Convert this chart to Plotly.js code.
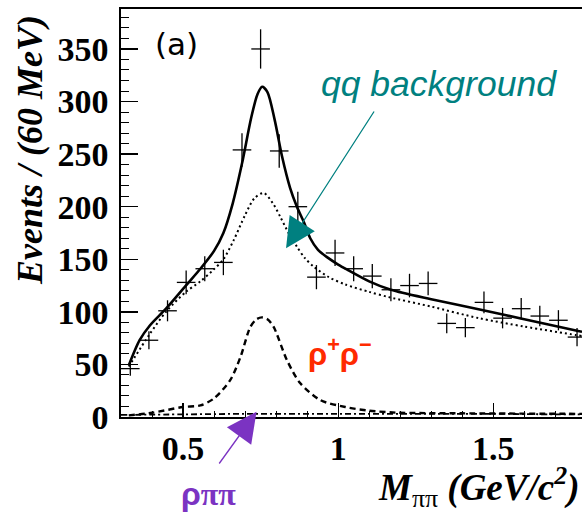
<!DOCTYPE html>
<html>
<head>
<meta charset="utf-8">
<script src="https://cdn.plot.ly/plotly-3.0.1.min.js"></script>
<style>html,body{margin:0;padding:0;background:#fff;}</style>
</head>
<body>
<div id="chart" style="width:582px;height:513px;"></div>
<script>
// Data points (60 MeV bins)
const dataX = [0.33,0.39,0.45,0.51,0.57,0.63,0.69,0.75,0.81,0.87,0.93,0.99,1.05,1.11,1.17,1.23,1.29,1.35,1.41,1.47,1.53,1.59,1.65,1.71,1.77];
const dataY = [46,73,101,128,141,147,254,350,253,200,133,156,141,134,121,125,127,89,85,109,94,103,96,92,76];
const dataErr = [6.8,8.5,10,11.3,11.9,12.1,15.9,18.7,15.9,14.1,11.5,12.5,11.9,11.6,11,11.2,11.3,9.4,9.2,10.4,9.7,10.1,9.8,9.6,8.7];

// Total fit (solid)
const fitX = [0.325,0.36,0.393,0.445,0.509,0.556,0.6,0.63,0.66,0.69,0.72,0.74,0.755,0.772,0.795,0.819,0.845,0.867,0.89,0.91,0.935,0.964,1.0,1.03,1.1,1.17,1.3,1.46,1.6,1.77,1.786];
const fitY = [49,73,87,103,125,141,158,175,203,241,285,307,314,309,283,248,218,200,185,170,159,152,145,140,129,121,112,102,93,82,81];

// qq background (dotted)
const bkgX = [0.325,0.393,0.445,0.509,0.556,0.598,0.63,0.663,0.7,0.73,0.76,0.79,0.814,0.84,0.867,0.893,0.921,0.97,1.023,1.1,1.163,1.3,1.453,1.6,1.765,1.786];
const bkgY = [48,79,100,119,129,140,150,168,192,208,213,203,190,175,162,151,143,133,126,119,114,105,94,86,78,77];

// rho+ rho- signal (dashed)
const sigX = [0.325,0.4,0.5,0.556,0.599,0.652,0.685,0.717,0.737,0.754,0.772,0.792,0.835,0.878,0.943,1.023,1.1,1.185,1.4,1.786];
const sigY = [1.5,4,9.5,11,17.5,35,57,85.7,93,94.7,93,85.7,54,32,16,9.5,6,4.2,3.5,3];

// rho pi pi component (dash-dot)
const rppX = [0.3,0.5,0.7,0.9,1.1,1.3,1.5,1.7,1.786];
const rppY = [2,2.5,3,3,3,3,3,2.5,2.5];

const traces = [
  {x: fitX, y: fitY, mode: 'lines', line: {color: '#000', width: 2.6, shape: 'spline', smoothing: 0.8}, hoverinfo: 'skip', showlegend: false},
  {x: bkgX, y: bkgY, mode: 'lines', line: {color: '#000', width: 2, dash: '2px,3px', shape: 'spline', smoothing: 0.8}, hoverinfo: 'skip', showlegend: false},
  {x: sigX, y: sigY, mode: 'lines', line: {color: '#000', width: 2.4, dash: '6px,4px', shape: 'spline', smoothing: 0.8}, hoverinfo: 'skip', showlegend: false},
  {x: rppX, y: rppY, mode: 'lines', line: {color: '#000', width: 1.8, dash: '6px,3px,2px,3px', shape: 'spline'}, hoverinfo: 'skip', showlegend: false},
  {x: dataX, y: dataY, mode: 'markers', marker: {size: 1, color: '#000'},
   error_x: {type: 'constant', value: 0.03, width: 0, thickness: 1.3, color: '#000'},
   error_y: {type: 'data', array: dataErr, visible: true, width: 0, thickness: 1.3, color: '#000'},
   showlegend: false}
];

const tickFont = {family: 'Liberation Serif', size: 34, color: '#000', weight: 'bold'};

const layout = {
  width: 582, height: 513,
  margin: {l: 121, r: 0, t: 9, b: 96},
  paper_bgcolor: '#fff', plot_bgcolor: '#fff',
  showlegend: false,
  xaxis: {
    range: [0.3, 1.786], showgrid: false, zeroline: false,
    showline: true, linecolor: '#000', linewidth: 1.6, mirror: true,
    ticks: 'inside', ticklen: 14, tickwidth: 1.3, tickcolor: '#000',
    tickmode: 'array', tickvals: [0.5, 1, 1.5], ticktext: ['0.5', '1', '1.5'],
    minor: {ticks: 'inside', ticklen: 6, dtick: 0.1, tick0: 0, tickcolor: '#000', tickwidth: 1, showgrid: false},
    tickfont: tickFont, ticklabelstandoff: 1
  },
  yaxis: {
    range: [0, 388], showgrid: false, zeroline: false,
    showline: true, linecolor: '#000', linewidth: 1.6, mirror: false,
    ticks: 'inside', ticklen: 17, tickwidth: 1.3, tickcolor: '#000',
    dtick: 50, tick0: 0,
    minor: {ticks: 'inside', ticklen: 8, dtick: 10, tick0: 0, tickcolor: '#000', tickwidth: 1, showgrid: false},
    tickfont: tickFont, ticklabelstandoff: 4
  },
  annotations: [
    {xref: 'paper', yref: 'paper', x: -0.197, y: 0.655, xanchor: 'center', yanchor: 'middle', textangle: -90,
     text: '<b><i>Events / (60 MeV)</i></b>', showarrow: false,
     font: {family: 'Liberation Serif', size: 36, color: '#000'}},
    {xref: 'paper', yref: 'paper', x: 0.998, y: -0.171, xanchor: 'right', yanchor: 'middle',
     text: '<b><i>M</i></b><sub>ππ</sub><b><i> (GeV/c<sup>2</sup>)</i></b>', showarrow: false,
     font: {family: 'Liberation Serif', size: 37, color: '#000'}},
    {xref: 'paper', yref: 'paper', x: 0.121, y: 0.914, xanchor: 'center', yanchor: 'middle',
     text: '(a)', showarrow: false, font: {family: 'DejaVu Sans', size: 31, color: '#000'}},
    {xref: 'paper', yref: 'paper', x: 0.689, y: 0.816, xanchor: 'center', yanchor: 'middle',
     text: '<i>qq background</i>', showarrow: false, font: {family: 'Liberation Sans', size: 35.5, color: '#008080'}},
    {xref: 'paper', yref: 'paper', x: 0.358, y: 0.4135, ax: 89, ay: -138.3, axref: 'pixel', ayref: 'pixel',
     text: '', showarrow: true, arrowhead: 2, arrowsize: 4.6, arrowwidth: 1.3, arrowcolor: '#008080'},
    {xref: 'paper', yref: 'paper', x: 0.475, y: 0.159, xanchor: 'center', yanchor: 'middle',
     text: '<b>ρ<sup>+</sup>ρ<sup>−</sup></b>', showarrow: false, font: {family: 'Liberation Sans', size: 31, color: '#ff2a00'}},
    {xref: 'paper', yref: 'paper', x: 0.294, y: 0.013, ax: -38.4, ay: 53.3, axref: 'pixel', ayref: 'pixel',
     text: '', showarrow: true, arrowhead: 2, arrowsize: 4.6, arrowwidth: 1.3, arrowcolor: '#7b33c2'},
    {xref: 'paper', yref: 'paper', x: 0.189, y: -0.188, xanchor: 'center', yanchor: 'middle',
     text: '<b>ρ<span style="font-family:Liberation Serif">ππ</span></b>', showarrow: false, font: {family: 'Liberation Sans', size: 32, color: '#7b33c2'}}
  ]
};

Plotly.newPlot('chart', traces, layout, {displayModeBar: false, staticPlot: true});
</script>
</body>
</html>
